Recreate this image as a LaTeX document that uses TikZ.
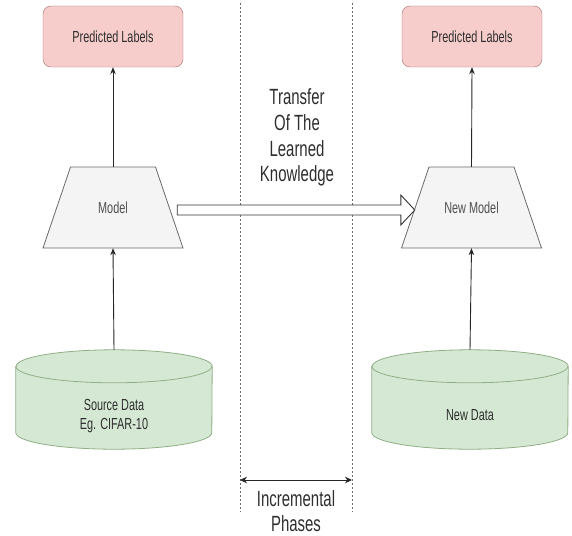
\documentclass[tikz,border=0pt]{standalone}
\usepackage{fontspec}
\setmainfont[FakeStretch=0.68]{Liberation Sans}
\usetikzlibrary{arrows.meta,calc}

\definecolor{pinkfill}{HTML}{F6CDCB}
\definecolor{pinkline}{HTML}{A8706C}
\definecolor{greenfill}{HTML}{D5E8D4}
\definecolor{greenline}{HTML}{8FAF86}
\definecolor{greyfill}{HTML}{F4F4F4}
\definecolor{greyline}{HTML}{6A6A6A}
\definecolor{inkdark}{HTML}{2E2E2E}
\definecolor{inkmid}{HTML}{505050}

\begin{document}
\begin{tikzpicture}[x=1pt,y=-1pt,
  labelbox/.style={draw=pinkline, fill=pinkfill, rounded corners=8pt,
    minimum width=140pt, minimum height=61pt, inner sep=0pt,
    text=inkdark, font=\fontsize{16}{19}\selectfont},
  modelbody/.style={minimum width=140pt, minimum height=81pt, inner sep=0pt,
    text=inkmid, font=\fontsize{16}{19}\selectfont},
  modelshape/.style={draw=greyline, fill=greyfill, line width=0.8pt},
  cylbody/.style={minimum width=196pt, minimum height=99pt, inner sep=0pt},
  cylshape/.style={draw=greenline, fill=greenfill, line width=0.8pt},
  cyltext/.style={align=center, text=inkdark, font=\fontsize{16}{19.5}\selectfont},
  flow/.style={draw=black!85, line width=0.9pt, -{Stealth[length=7pt,width=5.5pt]}},
  phaseline/.style={draw=greyline, line width=0.7pt, dash pattern=on 2pt off 2pt},
  span/.style={draw=black!85, line width=1pt, {Stealth[length=7pt,width=6.5pt]}-{Stealth[length=7pt,width=6.5pt]}},
  bigtext/.style={align=center, text=inkdark, font=\fontsize{22}{25.8}\selectfont},
  hollow/.style={draw=black!80, fill=white, line width=0.9pt, line join=miter}
]
\useasboundingbox (0,0) rectangle (572,535);

% phase boundaries
\coordinate (pa1) at (240,3);
\coordinate (pa2) at (240,512);
\coordinate (pb1) at (352,3);
\coordinate (pb2) at (352,512);
\draw[phaseline] (pa1) -- (pa2);
\draw[phaseline] (pb1) -- (pb2);

% output boxes
\node[labelbox] (predL) at (113,36.5) {Predicted Labels};
\node[labelbox] (predR) at (472,36.5) {Predicted Labels};

% models: trapezoids, narrow on top
\foreach \m/\cx/\t in {model/113/Model, newmodel/471.5/New Model}{
  \path[modelshape] (\cx-42.5,167) -- (\cx+42.5,167) -- (\cx+70,248) -- (\cx-70,248) -- cycle;
  \node[modelbody] (\m) at (\cx,207.5) {\t};
}

% data stores
\node[cylbody] (src) at (114,399.5) {};
\node[cylbody] (newdata) at (470,399.5) {};
\foreach \c in {src,newdata}{
  \path[cylshape] ($(\c.north west)+(0,16.5)$) -- ($(\c.south west)+(0,-16.5)$)
    arc[start angle=180, end angle=360, x radius=98pt, y radius=16.5pt]
    -- ($(\c.north east)+(0,16.5)$)
    arc[start angle=0, end angle=180, x radius=98pt, y radius=16.5pt] -- cycle;
  \draw[greenline, line width=0.8pt] ($(\c.north west)+(0,16.5)$)
    arc[start angle=180, end angle=360, x radius=98pt, y radius=16.5pt];
}
\node[cyltext] at ($(src.center)+(0,16.5)$) {Source Data\\Eg. CIFAR-10};
\node[cyltext] at ($(newdata.center)+(0,16)$) {New Data};

% data flow
\draw[flow] (src.north) -- (model.south);
\draw[flow] (model.north) -- (predL.south);
\draw[flow] (newdata.north) -- (newmodel.south);
\draw[flow] (newmodel.north) -- (predR.south);

% knowledge transfer arrow
\coordinate (ta) at ($(model.east)+(-6,2.5)$);
\coordinate (tb) at ($(newmodel.west)+(13.5,2.5)$);
\path[hollow] ($(ta)+(0,-5)$) -- ($(tb)+(-14,-5)$) -- ($(tb)+(-14,-15)$) -- (tb)
  -- ($(tb)+(-14,15)$) -- ($(tb)+(-14,5)$) -- ($(ta)+(0,5)$) -- cycle;
\node[bigtext] (transfer) at (297,137.5) {Transfer\\Of The\\Learned\\Knowledge};

% phase span
\coordinate (sa) at (240,480);
\coordinate (sb) at (352,480);
\draw[span] (sa) -- (sb);
\node[bigtext, font=\fontsize{22}{25}\selectfont] (phases) at (296,511) {Incremental\\Phases};
\end{tikzpicture}
\end{document}
